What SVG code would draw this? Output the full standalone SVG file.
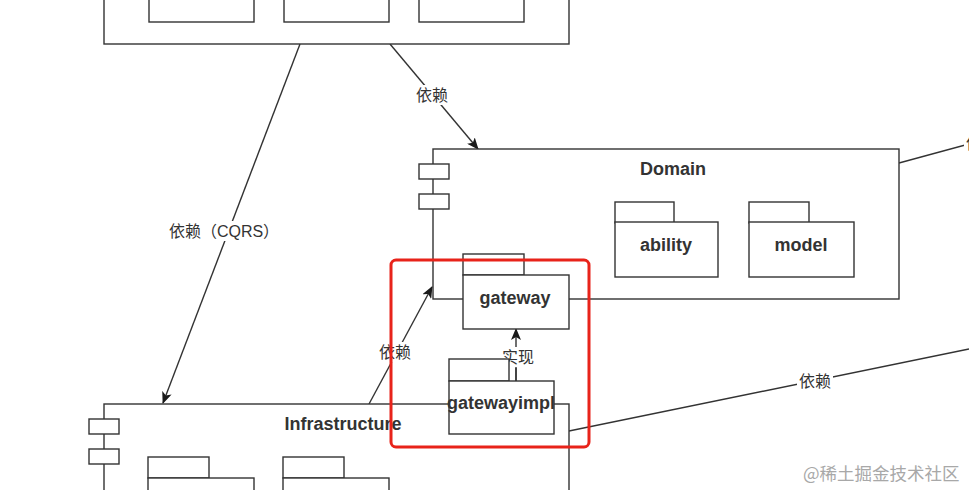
<svg xmlns="http://www.w3.org/2000/svg" width="969" height="490" viewBox="0 0 969 490">
<defs>
<marker id="arr" viewBox="0 0 12 10" refX="11" refY="5" markerWidth="12" markerHeight="10" markerUnits="userSpaceOnUse" orient="auto">
<path d="M0,0 L12,5 L0,10 L3,5 z" fill="#1a1a1a"/>
</marker>
<style>
.box{fill:#fff;stroke:#333;stroke-width:1.4}
.ln{fill:none;stroke:#333;stroke-width:1.4}
.title{font-family:"Liberation Sans",Arial,sans-serif;font-size:18px;font-weight:bold;fill:#333;text-anchor:middle;dominant-baseline:central}
.lbl{font-family:"Liberation Sans","Noto Sans CJK SC",sans-serif;font-size:16px;fill:#333;text-anchor:middle;dominant-baseline:central}
.lblbg{fill:#fff}
.wm{font-family:"Noto Sans CJK SC","Liberation Sans",sans-serif;font-size:17.5px;fill:#a8a8a8}
</style>
</defs>
<rect width="969" height="490" fill="#fff"/>

<g id="connectors">
<line class="ln" x1="300" y1="44" x2="163" y2="403" marker-end="url(#arr)"/>
<rect class="lblbg" x="169" y="221" width="112" height="20"/>
<text class="lbl" x="224" y="231">依赖（CQRS）</text>

<line class="ln" x1="390" y1="44" x2="478" y2="149" marker-end="url(#arr)"/>
<rect class="lblbg" x="414" y="85" width="36" height="20"/>
<text class="lbl" x="432" y="95">依赖</text>

<line class="ln" x1="369" y1="404" x2="432" y2="287" marker-end="url(#arr)"/>
<rect class="lblbg" x="377" y="342" width="36" height="20"/>
<text class="lbl" x="395" y="352">依赖</text>

<line class="ln" x1="516" y1="381" x2="516" y2="329" marker-end="url(#arr)"/>
<rect class="lblbg" x="500" y="347" width="36" height="20"/>
<text class="lbl" x="518" y="357">实现</text>

<line class="ln" x1="569" y1="431" x2="969" y2="349"/>
<rect class="lblbg" x="797" y="371" width="36" height="20"/>
<text class="lbl" x="815" y="381">依赖</text>

<line class="ln" x1="899" y1="163" x2="969" y2="144"/>
<rect class="lblbg" x="964" y="133" width="36" height="20"/>
<text class="lbl" x="982" y="143">依赖</text>
</g>

<g id="application">
<rect class="box" x="104" y="-60" width="465" height="104"/>
<rect class="box" x="149" y="-40" width="105" height="62"/>
<rect class="box" x="284" y="-40" width="105" height="62"/>
<rect class="box" x="419" y="-40" width="105" height="62"/>
</g>

<g id="domain">
<rect class="box" x="433" y="149" width="466" height="150"/>
<rect class="box" x="419" y="164" width="30" height="15"/>
<rect class="box" x="419" y="194" width="30" height="15"/>
<text class="title" x="673" y="169">Domain</text>
</g>

<g id="ability">
<rect class="box" x="615" y="202" width="59" height="21"/>
<rect class="box" x="615" y="222" width="103" height="55"/>
<text class="title" x="666" y="245">ability</text>
</g>

<g id="model">
<rect class="box" x="749" y="202" width="60" height="21"/>
<rect class="box" x="749" y="222" width="105" height="55"/>
<text class="title" x="801" y="245">model</text>
</g>

<g id="infrastructure">
<rect class="box" x="104" y="404" width="465" height="130"/>
<rect class="box" x="89" y="419" width="30" height="15"/>
<rect class="box" x="89" y="449" width="30" height="15"/>
<text class="title" x="343" y="424">Infrastructure</text>
<rect class="box" x="148" y="457" width="61" height="21"/>
<rect class="box" x="148" y="478" width="106" height="40"/>
<rect class="box" x="283" y="457" width="61" height="21"/>
<rect class="box" x="283" y="478" width="106" height="40"/>
</g>

<g id="gateway">
<rect class="box" x="463" y="254" width="61" height="21"/>
<rect class="box" x="463" y="275" width="106" height="54"/>
<text class="title" x="515" y="298">gateway</text>
</g>

<g id="gatewayimpl">
<rect class="box" x="449" y="359" width="60" height="22"/>
<rect class="box" x="449" y="381" width="105" height="53"/>
<text class="title" x="501" y="403">gatewayimpl</text>
</g>

<line class="ln" x1="516" y1="368" x2="516" y2="381"/>

<g id="highlight">
<rect x="391" y="260" width="198" height="187" rx="5" fill="none" stroke="#e8231a" stroke-width="3"/>
</g>

<text class="wm" x="803" y="480">@稀土掘金技术社区</text>
</svg>
